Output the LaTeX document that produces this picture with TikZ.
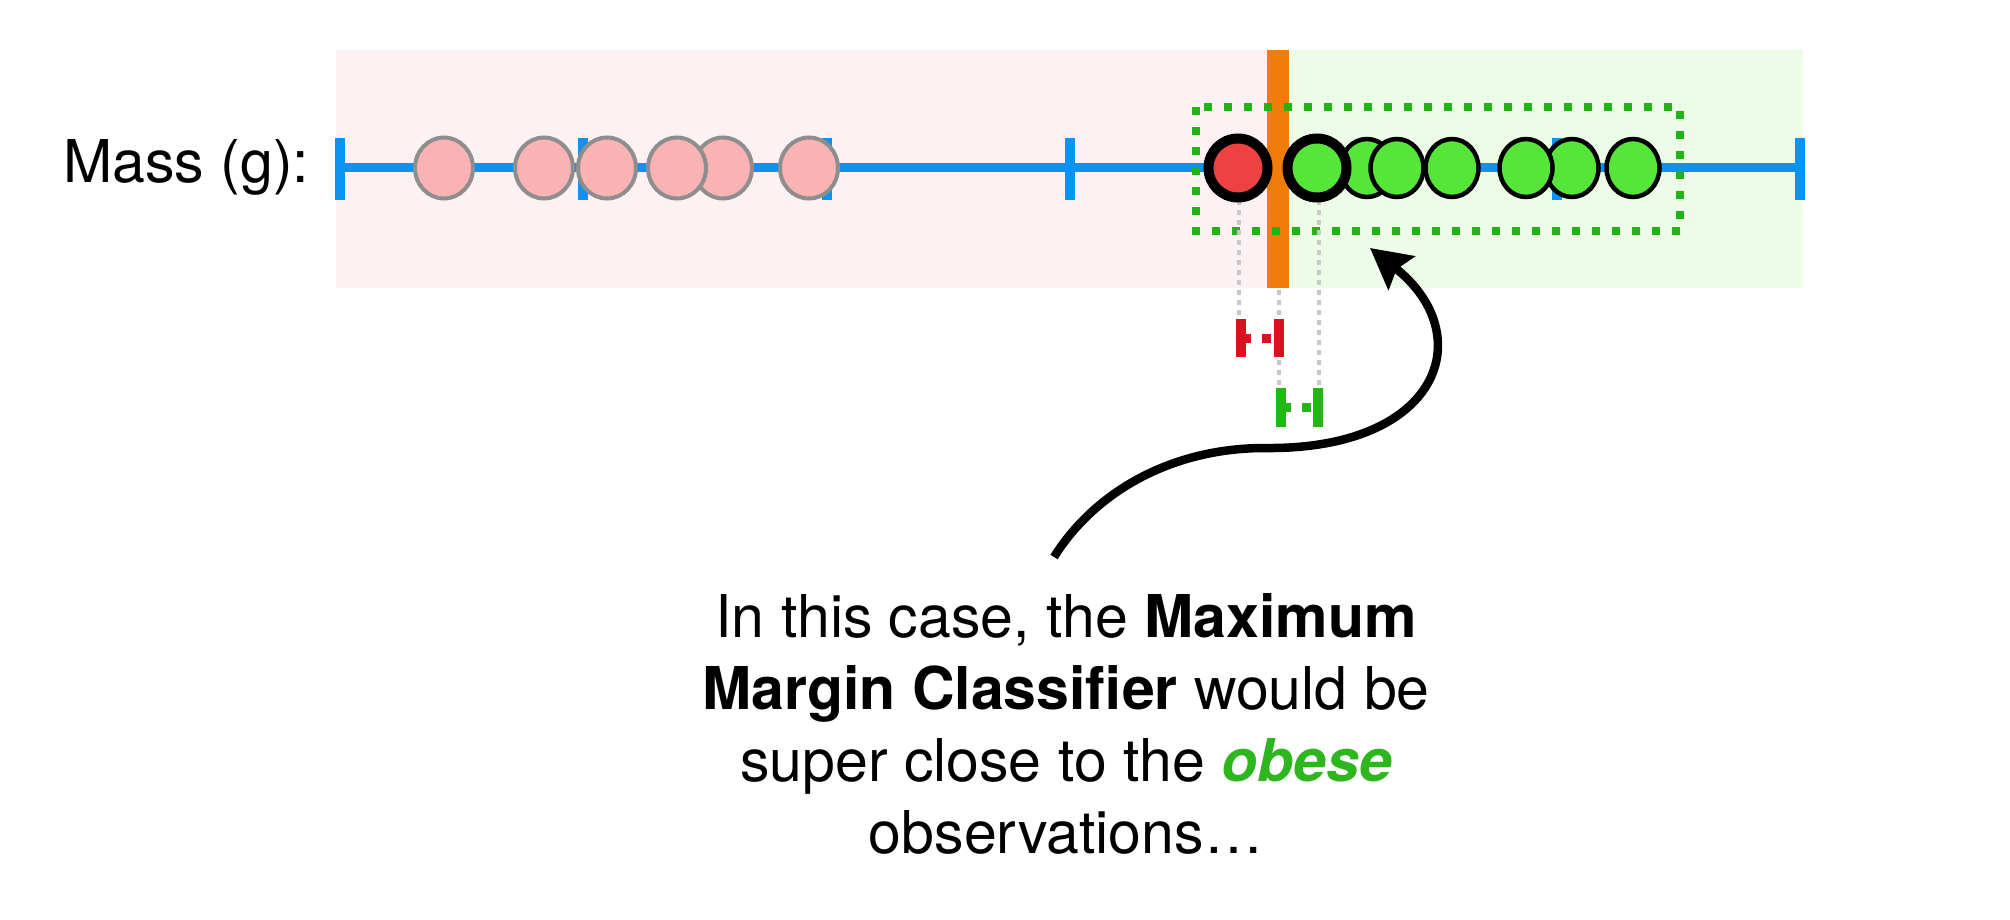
\documentclass[tikz,border=0pt]{standalone}
\usepackage{fontspec}
\setmainfont{TeX Gyre Heros}
\usetikzlibrary{shapes.geometric,arrows.meta}
\definecolor{pinkbg}{RGB}{253,242,243}
\definecolor{greenbg}{RGB}{236,252,230}
\definecolor{axisblue}{RGB}{10,147,245}
\definecolor{pinkfill}{RGB}{249,179,179}
\definecolor{pinkedge}{RGB}{142,142,142}
\definecolor{redfill}{RGB}{238,66,66}
\definecolor{greenfill}{RGB}{86,230,58}
\definecolor{orangebar}{RGB}{240,125,10}
\definecolor{boxgreen}{RGB}{34,180,20}
\definecolor{markred}{RGB}{216,18,30}
\definecolor{markgreen}{RGB}{34,184,20}
\definecolor{dotgray}{RGB}{200,200,200}
\definecolor{obesegreen}{RGB}{45,182,30}
\begin{document}
\begin{tikzpicture}[x=1pt,y=-1pt,
 pinkdot/.style={ellipse,draw=pinkedge,fill=pinkfill,line width=4pt,minimum width=58pt,minimum height=61pt,inner sep=0pt},
 greendot/.style={ellipse,draw=black,fill=greenfill,line width=4.5pt,minimum width=53pt,minimum height=58pt,inner sep=0pt},
 keydot/.style={circle,draw=black,line width=10pt,minimum size=59pt,inner sep=0pt},
 guide/.style={draw=dotgray,line width=4.5pt,dash pattern=on 5pt off 5pt},
 tickmark/.style={draw=axisblue,line width=10pt},
 barmark/.style={line width=10pt},
 dashmark/.style={line width=9pt,dash pattern=on 5pt off 11pt on 9pt off 20pt},
 arrowline/.style={draw=black,line width=8.5pt,-{Stealth[length=40pt,width=42pt,inset=6pt]}},
 txt/.style={font=\fontsize{59}{72}\selectfont,inner sep=0pt}
]
\useasboundingbox (0,0) rectangle (2010,920);
% backgrounds
\fill[pinkbg] (336,50) rectangle (1278,288);
\fill[greenbg] (1278,50) rectangle (1803,288);
% label
\node[txt,anchor=base west] (label) at (63,183) {Mass (g):};
% axis
\draw[axisblue,line width=9pt] (340,168) -- (1800,168);
\foreach \i in {0,...,6} { \draw[tickmark] ({340+243.33*\i},138) -- ({340+243.33*\i},200); }
% orange classifier bar
\fill[orangebar] (1267,50) rectangle (1289,288);
% dotted box
\draw[boxgreen,line width=8pt,dash pattern=on 8pt off 12pt] (1196,107) rectangle (1680,231);
% marker coordinates
\coordinate (rmA) at (1241,338);
\coordinate (rmB) at (1279,338);
\coordinate (gmA) at (1281,407);
\coordinate (gmB) at (1318,407);
% guides
\draw[guide] (1239,200) -- (1239,319);
\draw[guide] (1279,290) -- (1279,387);
\draw[guide] (1319,200) -- (1319,387);
% pink observations
\node[pinkdot] (p1) at (444,168) {};
\node[pinkdot] (p2) at (544,168) {};
\node[pinkdot] (p3) at (607,168) {};
\node[pinkdot] (p5) at (723,168) {};
\node[pinkdot] (p4) at (677,168) {};
\node[pinkdot] (p6) at (809,168) {};
% green observations
\node[greendot] (g1) at (1367,168) {};
\node[greendot] (g2) at (1397,168) {};
\node[greendot] (g3) at (1452,168) {};
\node[greendot] (g5) at (1572,168) {};
\node[greendot] (g4) at (1526,168) {};
\node[greendot] (g6) at (1633,168) {};
% key observations
\node[keydot,fill=redfill] (red) at (1238,168) {};
\node[keydot,fill=greenfill] (g0) at (1317,168) {};
% margin markers
\draw[markred,barmark] ([yshift=-19pt]rmA) -- ([yshift=19pt]rmA);
\draw[markred,barmark] ([yshift=-19pt]rmB) -- ([yshift=19pt]rmB);
\draw[markred,dashmark] ([xshift=5pt]rmA) -- ([xshift=-5pt]rmB);
\draw[markgreen,barmark] ([yshift=-19.5pt]gmA) -- ([yshift=19.5pt]gmA);
\draw[markgreen,barmark] ([yshift=-19.5pt]gmB) -- ([yshift=19.5pt]gmB);
\draw[markgreen,dashmark] ([xshift=5pt]gmA) -- ([xshift=-5pt]gmB);
% caption
\node[txt,align=center,anchor=base] (caption) at (1066,853) {In this case, the \textbf{Maximum}\\
\textbf{Margin Classifier} would be\\
super close to the \textcolor{obesegreen}{\textbf{\textit{obese}}}\\
observations…};
% arrow
\coordinate (tail) at (1054,557);
\coordinate (tip) at (1370,248);
\draw[arrowline] (tail) .. controls (1094,493) and (1170,448) .. (1265,448) .. controls (1440,450) and (1480,335) .. (tip);
\end{tikzpicture}
\end{document}
